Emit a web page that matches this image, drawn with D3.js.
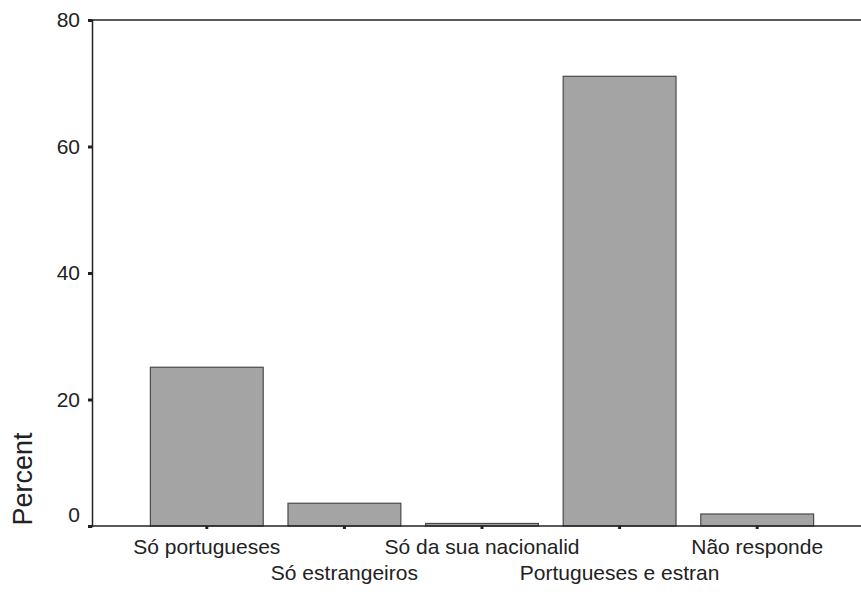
<!DOCTYPE html>
<html>
<head>
    <meta charset="UTF-8">
    <title>Percent</title>
    <script src="https://cdn.jsdelivr.net/npm/d3@7"></script>
    <style>
        body { margin: 0; background: #fff; }
        svg text { font-family: "Liberation Sans", Arial, sans-serif; fill: #222; }
    </style>
</head>
<body>
<svg id="chart" width="861" height="594"></svg>
<script>
// data
const categories = ["Só portugueses", "Só estrangeiros", "Só da sua nacionalid", "Portugueses e estran", "Não responde"];
const percents = [25.1, 3.6, 0.4, 71.1, 1.9];
const yTicks = [0, 20, 40, 60, 80];

const svg = d3.select("#chart");

// plot frame
const plotLeft = 92, plotTop = 20, plotBottom = 526, plotRight = 861;

const y = d3.scaleLinear().domain([0, 80]).range([plotBottom, plotTop]);
const x = d3.scaleBand()
    .domain(categories)
    .range([138, 826])
    .paddingInner(0.18)
    .paddingOuter(0.09);

// frame line on top
svg.append("line")
    .attr("x1", plotLeft).attr("x2", plotRight)
    .attr("y1", plotTop).attr("y2", plotTop)
    .attr("stroke", "#222").attr("stroke-width", 1.5);

// bars
svg.selectAll("rect.bar")
    .data(percents)
    .enter().append("rect")
    .attr("class", "bar")
    .attr("x", (d, i) => x(categories[i]))
    .attr("width", x.bandwidth())
    .attr("y", d => y(d))
    .attr("height", d => y(0) - y(d))
    .attr("fill", "#a4a4a4")
    .attr("stroke", "#4a4a4a")
    .attr("stroke-width", 1.2);

// y axis
const yAxis = svg.append("g")
    .attr("transform", "translate(" + plotLeft + ",0)")
    .call(d3.axisLeft(y).tickValues(yTicks).tickSize(4).tickPadding(8));
yAxis.select(".domain").attr("stroke", "#222").attr("stroke-width", 1.5);
yAxis.selectAll(".tick line").attr("stroke", "#222").attr("stroke-width", 3);
yAxis.selectAll(".tick text")
    .style("font-size", "21px")
    .attr("fill", "#222")
    .attr("y", d => d === 0 ? -11 : 0);

// x axis
const xAxis = svg.append("g")
    .attr("transform", "translate(0," + plotBottom + ")")
    .call(d3.axisBottom(x).tickSize(3).tickPadding(0));
xAxis.select(".domain")
    .attr("d", "M" + plotLeft + ",0H" + plotRight)
    .attr("stroke", "#222").attr("stroke-width", 1.5);
xAxis.selectAll(".tick line").attr("stroke", "#222").attr("stroke-width", 3);
xAxis.selectAll(".tick text")
    .style("font-size", "21px")
    .attr("fill", "#222")
    .attr("dy", null)
    .attr("y", (d, i) => i % 2 === 0 ? 28 : 54);

// y label
svg.append("text")
    .attr("transform", "translate(32,479) rotate(-90)")
    .attr("text-anchor", "middle")
    .style("font-size", "27px")
    .text("Percent");
</script>
</body>
</html>
